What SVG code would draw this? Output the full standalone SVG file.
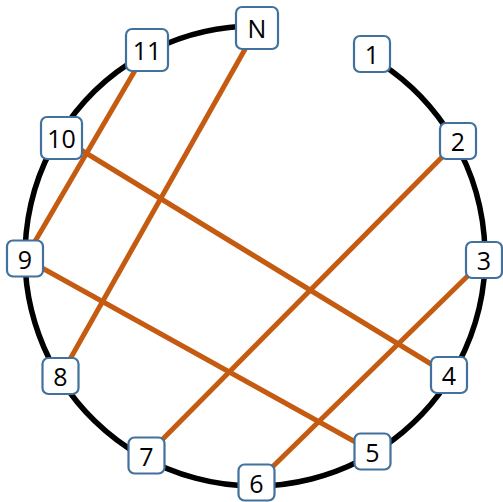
<svg xmlns="http://www.w3.org/2000/svg" width="503" height="502" viewBox="0 0 503 502">
<style>
.ring{fill:none;stroke:#000;stroke-width:5.5}
.edge{stroke:#C55A11;stroke-width:5;fill:none}
.box{fill:#fff;stroke:#41719C;stroke-width:2.2}
.lbl{font-family:"Open Sans","Liberation Sans",Arial,sans-serif;font-size:25px;fill:#000;text-anchor:middle;dominant-baseline:central}
</style>
<rect width="503" height="502" fill="#fff"/>
<path class="ring" d="M 370 56.8 A 230 230 0 1 1 255 26"/>
<g id="connectors">
<line class="edge" x1="147" y1="50" x2="25" y2="258.5"/>
<line class="edge" x1="257" y1="28" x2="60.5" y2="376"/>
<line class="edge" x1="61.5" y1="138" x2="449" y2="375"/>
<line class="edge" x1="25" y1="258.5" x2="372.5" y2="451.5"/>
<line class="edge" x1="458" y1="141" x2="146.5" y2="455.5"/>
<line class="edge" x1="484" y1="260" x2="256.5" y2="482.5"/>
</g>
<g id="nodeN"><rect class="box" x="236" y="7" width="42" height="42" rx="6"/><text class="lbl" x="257" y="28">N</text></g>
<g id="node1"><rect class="box" x="354" y="36" width="36" height="36" rx="6"/><text class="lbl" x="372" y="54">1</text></g>
<g id="node2"><rect class="box" x="440" y="123" width="36" height="36" rx="6"/><text class="lbl" x="458" y="141">2</text></g>
<g id="node3"><rect class="box" x="466" y="242" width="36" height="36" rx="6"/><text class="lbl" x="484" y="260">3</text></g>
<g id="node4"><rect class="box" x="431" y="357" width="36" height="36" rx="6"/><text class="lbl" x="449" y="375">4</text></g>
<g id="node5"><rect class="box" x="354.5" y="433.5" width="36" height="36" rx="6"/><text class="lbl" x="372.5" y="451.5">5</text></g>
<g id="node6"><rect class="box" x="238.5" y="464.5" width="36" height="36" rx="6"/><text class="lbl" x="256.5" y="482.5">6</text></g>
<g id="node7"><rect class="box" x="128.5" y="437.5" width="36" height="36" rx="6"/><text class="lbl" x="146.5" y="455.5">7</text></g>
<g id="node8"><rect class="box" x="42.5" y="358" width="36" height="36" rx="6"/><text class="lbl" x="60.5" y="376">8</text></g>
<g id="node9"><rect class="box" x="7" y="240.5" width="36" height="36" rx="6"/><text class="lbl" x="25" y="258.5">9</text></g>
<g id="node10"><rect class="box" x="41" y="117" width="41" height="42" rx="6"/><text class="lbl" x="61.5" y="138">10</text></g>
<g id="node11"><rect class="box" x="126" y="29" width="42" height="42" rx="6"/><text class="lbl" x="147" y="50">11</text></g>
</svg>
